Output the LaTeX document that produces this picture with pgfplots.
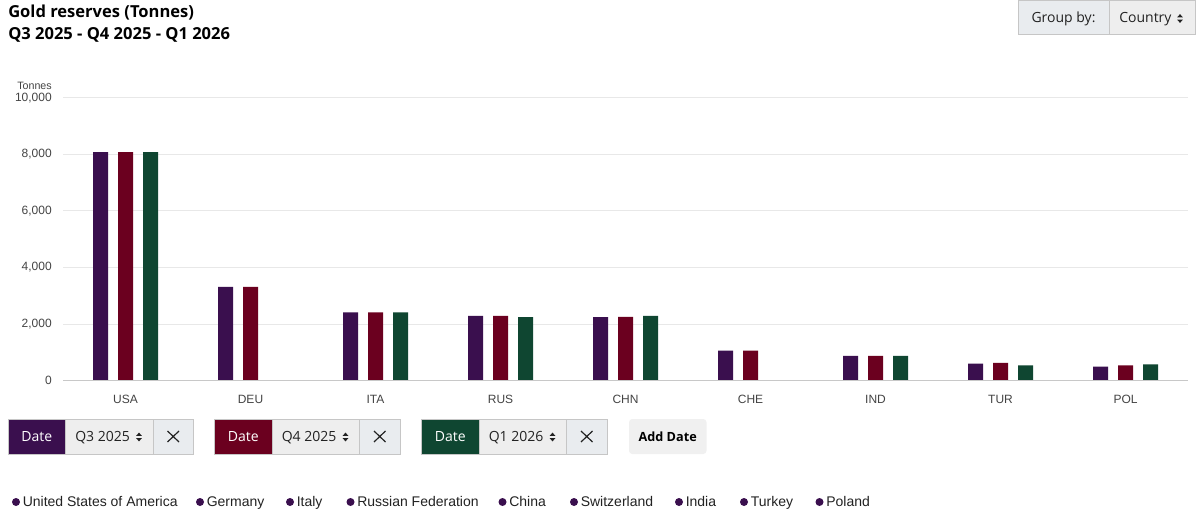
\documentclass[border=0pt]{standalone}
\usepackage{pgfplots}
\pgfplotsset{compat=1.18}
\usepackage{fontspec}
\setmainfont{Liberation Sans}
\newfontfamily\uifont{Open Sans}

\definecolor{qthree}{HTML}{3A0F4E}
\definecolor{qfour}{HTML}{6B001F}
\definecolor{qone}{HTML}{0F4631}
\definecolor{gridc}{HTML}{E8E8E8}
\definecolor{basec}{HTML}{C8C8C8}
\definecolor{tickc}{HTML}{444444}
\definecolor{selbg}{HTML}{EEEEEE}
\definecolor{lblbg}{HTML}{E9ECEF}
\definecolor{boxline}{HTML}{C6C6C6}
\definecolor{btnbg}{HTML}{F0F0F0}
\definecolor{txt}{HTML}{222222}

% small up/down sort arrows of a select box
\newcommand{\sortarrows}[2]{%
  \fill[txt] (#1-2.8,#2-1.2) -- (#1+2.8,#2-1.2) -- (#1,#2-4.4) -- cycle;
  \fill[txt] (#1-2.8,#2+1.2) -- (#1+2.8,#2+1.2) -- (#1,#2+4.4) -- cycle;}

% one date selector: colour, left x, quarter text
\newcommand{\datebox}[3]{%
  \fill[#1] (#2,419) rectangle (#2+57.5,454);
  \fill[selbg] (#2+57.5,419) rectangle (#2+145,454);
  \fill[lblbg] (#2+145,419) rectangle (#2+185.5,454);
  \draw[boxline, line width=0.75pt] (#2,419) rectangle (#2+185.5,454);
  \draw[boxline, line width=0.75pt] (#2+57.5,419) -- (#2+57.5,454);
  \draw[boxline, line width=0.75pt] (#2+145,419) -- (#2+145,454);
  \node[text=white, anchor=base, font=\uifont\fontsize{10.5}{12}\selectfont, inner sep=0] at (#2+28.75,441.5) {Date};
  \node[text=txt, anchor=base west, font=\uifont\fontsize{10.5}{12}\selectfont, inner sep=0] at (#2+67,441.5) {#3};
  \sortarrows{#2+131}{437}
  \draw[txt, line width=0.9pt] (#2+159.5,431) -- (#2+171,442) (#2+159.5,442) -- (#2+171,431);}

\newcommand{\legitem}[2]{%
  \fill[qthree] (#1,502) circle (3pt);
  \node[anchor=base west, inner sep=0, text=txt, font=\fontsize{10.5}{12}\selectfont] at (#1+6.5,506) {#2};}

\begin{document}
\begin{tikzpicture}
\begin{scope}[x=0.75pt,y=-0.75pt]
  \fill[white] (0,0) rectangle (1199,509);
  % titles
  \node[anchor=base west, inner sep=0, text=black, font=\uifont\bfseries\fontsize{12.4}{14}\selectfont] at (8,17.5) {Gold reserves (Tonnes)};
  \node[anchor=base west, inner sep=0, text=black, font=\uifont\bfseries\fontsize{12.4}{14}\selectfont] at (8,39.5) {Q3 2025 - Q4 2025 - Q1 2026};
  % group-by selector
  \fill[lblbg] (1018,1) rectangle (1109,35);
  \fill[selbg] (1109,1) rectangle (1195,35);
  \draw[boxline, line width=0.75pt] (1018,1) rectangle (1195,35);
  \draw[boxline, line width=0.75pt] (1109,1) -- (1109,35);
  \node[text=txt, anchor=base, inner sep=0, font=\uifont\fontsize{10.5}{12}\selectfont] at (1063.5,23) {Group by:};
  \node[text=txt, anchor=base west, inner sep=0, font=\uifont\fontsize{10.5}{12}\selectfont] at (1119,23) {Country};
  \sortarrows{1180}{18.5}
  % y unit
  \node[anchor=east, inner sep=0, text=tickc, font=\fontsize{8}{9}\selectfont] at (52,86) {Tonnes};
  % date selectors
  \datebox{qthree}{8}{Q3 2025}
  \datebox{qfour}{214.5}{Q4 2025}
  \datebox{qone}{421.5}{Q1 2026}
  \fill[btnbg, rounded corners=2.5pt] (629,419) rectangle (706.5,454);
  \node[text=black, anchor=base, inner sep=0, font=\uifont\bfseries\fontsize{9.5}{11}\selectfont] at (667.7,441) {Add Date};
  % country legend
  \legitem{16}{United States of America}
  \legitem{200}{Germany}
  \legitem{290}{Italy}
  \legitem{350.5}{Russian Federation}
  \legitem{502.5}{China}
  \legitem{574}{Switzerland}
  \legitem{679}{India}
  \legitem{744}{Turkey}
  \legitem{819.5}{Poland}
\end{scope}

\begin{axis}[
  at={(47.25pt,-285.525pt)}, anchor=south west,
  scale only axis, width=843.75pt, height=212.25pt,
  xmin=-0.5, xmax=8.5, ymin=0, ymax=10000,
  axis line style={draw=none},
  major tick length=0pt, tick style={draw=none},
  ymajorgrids, grid style={gridc, line width=0.75pt},
  ytick={0,2000,4000,6000,8000,10000},
  scaled y ticks=false,
  xtick={0,1,2,3,4,5,6,7,8},
  xticklabels={USA,DEU,ITA,RUS,CHN,CHE,IND,TUR,POL},
  /pgf/number format/assume math mode=true,
  /pgf/number format/1000 sep={,},
  yticklabel style={font=\fontsize{9}{10}\selectfont, text=tickc, anchor=east, inner sep=0pt, xshift=-8.25pt},
  xticklabel style={font=\fontsize{9}{10}\selectfont, text=tickc, anchor=north, inner sep=0pt, yshift=-10.5pt},
  clip=false,
]
% Q3 2025
\addplot[ybar, bar width=11.25pt, bar shift=-18.75pt, fill=qthree, draw=none]
  coordinates {(0,8080) (1,3315) (2,2410) (3,2290) (4,2245) (5,1060) (6,875) (7,605) (8,495)};
% Q4 2025
\addplot[ybar, bar width=11.25pt, bar shift=0pt, fill=qfour, draw=none]
  coordinates {(0,8080) (1,3315) (2,2410) (3,2290) (4,2255) (5,1060) (6,875) (7,630) (8,545)};
% Q1 2026 (no figures yet for DEU and CHE)
\addplot[ybar, bar width=11.25pt, bar shift=18.75pt, fill=qone, draw=none]
  coordinates {(0,8080) (2,2410) (3,2245) (4,2290) (6,875) (7,545) (8,580)};
\draw[basec, line width=1.1pt] (axis cs:-0.5,0) -- (axis cs:8.5,0);
\end{axis}
\end{tikzpicture}
\end{document}
